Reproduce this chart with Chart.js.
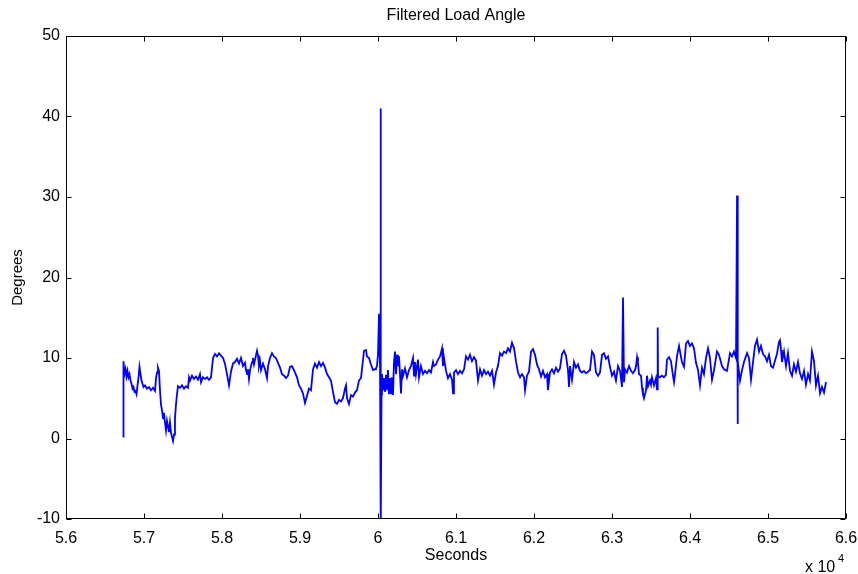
<!DOCTYPE html>
<html>
<head>
<meta charset="utf-8">
<script src="https://cdn.jsdelivr.net/npm/chart.js@4/dist/chart.umd.min.js"></script>
<style>
html,body{margin:0;padding:0;background:#fff;}
canvas{display:block;}
</style>
</head>
<body>
<canvas id="c" width="858" height="574"></canvas>
<script>
const chartTitle = 'Filtered Load Angle';
const xLabel = 'Seconds';
const yLabel = 'Degrees';
const xTicks = [56000, 57000, 58000, 59000, 60000, 61000, 62000, 63000, 64000, 65000, 66000];
const yTicks = [-10, 0, 10, 20, 30, 40, 50];

const seconds = [
56735,56737,56750,56763,56776,56788,56801,56814,56827,56840,56853,56865,56878,56891,56904,56917,56929,56942,56955,56968,56981,56994,
57013,57038,57064,57090,57115,57141,57154,57167,57179,57192,57205,57218,57231,57244,57256,57269,57282,57295,57308,57320,57333,57346,57359,57372,57385,57397,57410,57423,57436,57462,57487,57513,57538,57564,57577,57590,57615,57641,57667,57692,57718,57731,57756,57782,57808,57833,57859,57885,57910,57936,57962,57987,
58013,58038,58064,58090,58115,58141,58167,58192,58218,58244,58269,58295,58308,58321,58333,58346,58359,58385,58397,58410,58449,58462,58474,58487,58500,58526,58551,58577,58590,58615,58641,58667,58692,58718,58744,58769,58795,58821,58846,58872,58897,58923,58962,58987,
59013,59038,59064,59090,59115,59141,59167,59192,59218,59244,59269,59295,59321,59346,59372,59397,59423,59449,59474,59500,59526,59551,59577,59590,59603,59628,59654,59679,59705,59731,59756,59782,59821,59846,59859,59885,59910,59936,59962,59974,59987,
60000,60013,60026,60032,60038,60045,60051,60064,60077,60090,60103,60115,60128,60141,60154,60167,60179,60192,60205,60218,60231,60244,60256,60269,60282,60295,60308,60321,60346,60372,60397,60423,60449,60462,60474,60487,60513,60526,60551,60577,60603,60628,60654,60679,60705,60718,60744,60769,60795,60821,60833,60846,60872,60897,60923,60949,60962,60974,
61000,61026,61051,61077,61103,61128,61154,61179,61205,61231,61256,61282,61308,61333,61359,61385,61410,61436,61462,61487,61513,61538,61564,61590,61615,61641,61667,61692,61718,61744,61769,61795,61821,61846,61872,61885,61910,61936,61962,61987,
62013,62038,62064,62090,62115,62141,62167,62179,62205,62231,62256,62282,62308,62333,62359,62385,62410,62436,62449,62462,62487,62513,62538,62564,62590,62615,62641,62667,62692,62718,62744,62769,62795,62821,62846,62872,62897,62923,62949,62974,
63000,63026,63051,63077,63103,63128,63141,63154,63167,63192,63218,63244,63269,63295,63308,63321,63333,63346,63372,63385,63397,63410,63436,63449,63462,63487,63500,63513,63538,63564,63577,63586,63590,63615,63641,63667,63692,63705,63731,63756,63782,63795,63808,63833,63859,63872,63897,63923,63949,63974,
64000,64026,64051,64077,64103,64128,64154,64179,64205,64231,64256,64282,64308,64346,64372,64410,64436,64474,64513,64538,64564,64590,64603,64609,64615,64641,64667,64692,64731,64756,64782,64808,64833,64859,64885,64910,64936,64962,64987,
65013,65038,65064,65090,65115,65141,65154,65167,65179,65205,65231,65256,65282,65308,65333,65359,65385,65410,65436,65462,65487,65513,65538,65564,65590,65615,65641,65667,65692,65718,65744
];

const degrees = [
0.2,9.6,8.0,8.6,7.7,8.4,7.6,8.0,7.2,6.8,6.2,6.4,5.8,5.9,5.5,6.6,7.5,8.9,8.0,7.2,6.8,6.4,
6.6,6.2,6.4,6.0,6.3,5.9,7.5,8.2,8.8,8.4,6.0,4.2,3.5,2.5,3.2,2.0,1.0,2.2,1.5,0.8,2.0,0.7,0.2,-0.3,0.5,2.5,4.2,5.5,6.5,6.3,6.6,6.2,6.5,6.3,7.6,7.2,7.8,7.4,7.7,7.3,8.0,7.0,7.6,7.4,7.6,7.3,7.6,10.0,10.5,10.2,10.6,10.3,
10.0,9.3,8.0,6.6,8.3,9.3,9.5,9.9,9.3,10.0,9.0,9.4,8.5,8.0,8.6,7.4,8.5,9.5,10.0,9.2,10.9,10.3,9.0,9.6,8.5,9.3,8.6,7.5,9.0,10.0,10.6,10.2,10.0,9.4,8.8,8.0,7.8,7.5,7.8,8.9,9.0,8.5,7.6,6.6,
6.2,5.6,4.4,5.3,6.2,6.0,8.6,9.3,8.8,9.5,9.0,9.4,8.8,8.0,7.6,7.2,5.8,4.5,4.3,4.8,4.6,5.0,6.2,6.6,5.0,4.3,5.4,5.2,5.7,6.0,7.2,7.5,10.9,11.0,10.2,10.0,9.2,8.5,8.6,8.7,9.0,
10.4,15.5,9.0,41,-11,5.5,8.0,6.0,7.5,5.8,7.9,6.0,8.5,5.5,7.5,5.6,7.6,5.4,9.5,10.8,8.0,10.4,9.0,10.2,8.0,5.6,8.6,7.8,8.7,7.6,8.5,9.0,10.0,7.8,9.5,8.0,9.8,7.6,9.0,8.0,8.4,8.1,8.5,8.2,9.5,9.0,9.2,9.8,10.2,11.2,9.0,10.0,8.4,7.5,8.0,7.3,5.6,8.2,
8.5,8.0,8.4,8.1,8.6,10.2,9.8,10.4,9.6,10.1,9.7,7.2,8.6,7.8,8.5,8.0,8.3,7.8,8.4,6.7,8.2,9.0,10.6,10.3,10.8,10.6,11.2,10.8,11.9,11.2,9.6,8.2,7.6,8.0,7.6,6.0,7.8,8.3,10.8,11.1,
10.4,9.2,8.6,7.7,8.4,7.6,8.0,6.0,8.2,8.6,8.1,8.8,8.3,8.7,10.5,10.9,10.3,8.5,6.4,9.0,7.3,9.5,8.8,9.2,8.4,8.2,8.4,8.1,8.3,8.5,10.8,10.4,8.2,7.8,8.2,10.4,10.6,9.9,10.2,8.9,
7.8,8.3,7.2,9.0,8.4,6.4,17.5,7.0,8.6,8.2,9.0,8.4,8.1,8.5,9.0,10.1,9.4,8.0,7.8,6.3,5.5,5.0,6.0,7.8,6.5,7.2,6.7,7.6,6.6,7.5,6.1,13.8,7.8,7.6,7.8,7.6,7.9,9.8,10.1,9.6,7.8,7.0,8.0,10.2,11.5,10.8,9.5,8.9,11.8,12.1,
11.5,11.8,11.2,9.4,8.5,6.6,8.8,8.0,10.0,11.2,10.0,7.3,8.5,10.8,10.4,9.0,8.6,8.4,10.6,10.2,10.8,10.0,30.2,1.8,9.6,7.2,8.5,9.5,10.6,10.0,7.3,9.5,11.5,12.3,10.8,11.5,10.5,10.2,9.6,
10.4,9.0,8.8,9.7,10.5,12.0,12.2,11.0,9.5,10.8,9.0,10.6,8.4,7.8,9.2,8.3,9.5,8.1,7.4,8.4,6.7,8.0,7.2,10.8,9.6,6.6,7.8,5.6,6.4,5.7,7.0
];

const FONT = "'Liberation Sans', Arial, sans-serif";
const points = seconds.map((s, i) => ({x: s, y: degrees[i]}));

const frame = {
  id: 'frame',
  afterDraw(chart) {
    const {ctx, chartArea: ca, scales: {x, y}} = chart;
    const L = Math.round(ca.left) + 0.5, R = Math.round(ca.right) - 0.5;
    const T = Math.round(ca.top) + 0.5, B = Math.round(ca.bottom) - 0.5;
    ctx.save();
    ctx.strokeStyle = '#000';
    ctx.lineWidth = 1;
    ctx.strokeRect(L, T, R - L, B - T);
    const tl = 5;
    ctx.beginPath();
    xTicks.forEach(v => {
      const px = Math.round(x.getPixelForValue(v)) + 0.5;
      ctx.moveTo(px, B); ctx.lineTo(px, B - tl);
      ctx.moveTo(px, T); ctx.lineTo(px, T + tl);
    });
    yTicks.forEach(v => {
      const py = Math.round(y.getPixelForValue(v)) + 0.5;
      ctx.moveTo(L, py); ctx.lineTo(L + tl, py);
      ctx.moveTo(R, py); ctx.lineTo(R - tl, py);
    });
    ctx.stroke();
    ctx.fillStyle = '#000';
    ctx.textAlign = 'center';
    ctx.textBaseline = 'middle';
    ctx.font = '16px ' + FONT;
    ctx.fillText(chartTitle, (ca.left + ca.right) / 2, 16);
    ctx.textAlign = 'left';
    ctx.textBaseline = 'alphabetic';
    ctx.font = '16px ' + FONT;
    ctx.fillText('x 10', 805, 572);
    ctx.font = '11px ' + FONT;
    ctx.fillText('4', 838, 562);
    ctx.restore();
  }
};

new Chart(document.getElementById('c'), {
  type: 'line',
  data: {
    datasets: [{
      data: points,
      borderColor: '#0000ff',
      borderWidth: 1.8,
      pointRadius: 0,
      tension: 0,
      fill: false
    }]
  },
  options: {
    responsive: false,
    animation: false,
    layout: {padding: {top: 36, right: 12, left: 0, bottom: 0}},
    plugins: {legend: {display: false}, tooltip: {enabled: false}, title: {display: false}},
    scales: {
      x: {
        type: 'linear', min: 56000, max: 66000,
        afterBuildTicks(s) { s.ticks = xTicks.map(v => ({value: v})); },
        grid: {display: false, drawTicks: false},
        border: {display: false},
        ticks: {
          padding: 10, color: '#000', autoSkip: false, maxRotation: 0,
          font: {size: 16, family: FONT},
          callback: v => String(+(v / 10000).toFixed(1))
        },
        title: {display: true, text: xLabel, color: '#000', font: {size: 16, family: FONT}, padding: {top: 0, bottom: 9}},
        afterFit(s) { s.height = 55; s.paddingRight = 12; s.paddingLeft = 0; }
      },
      y: {
        min: -10, max: 50,
        afterBuildTicks(s) { s.ticks = yTicks.map(v => ({value: v})); },
        grid: {display: false, drawTicks: false},
        border: {display: false},
        ticks: {padding: 6, color: '#000', font: {size: 16, family: FONT}},
        title: {display: true, text: yLabel, color: '#000', font: {size: 15, family: FONT}, padding: {top: 9, bottom: 0}},
        afterFit(s) { s.width = 66; s.paddingTop = 0; s.paddingBottom = 0; }
      }
    }
  },
  plugins: [frame]
});
</script>
</body>
</html>
